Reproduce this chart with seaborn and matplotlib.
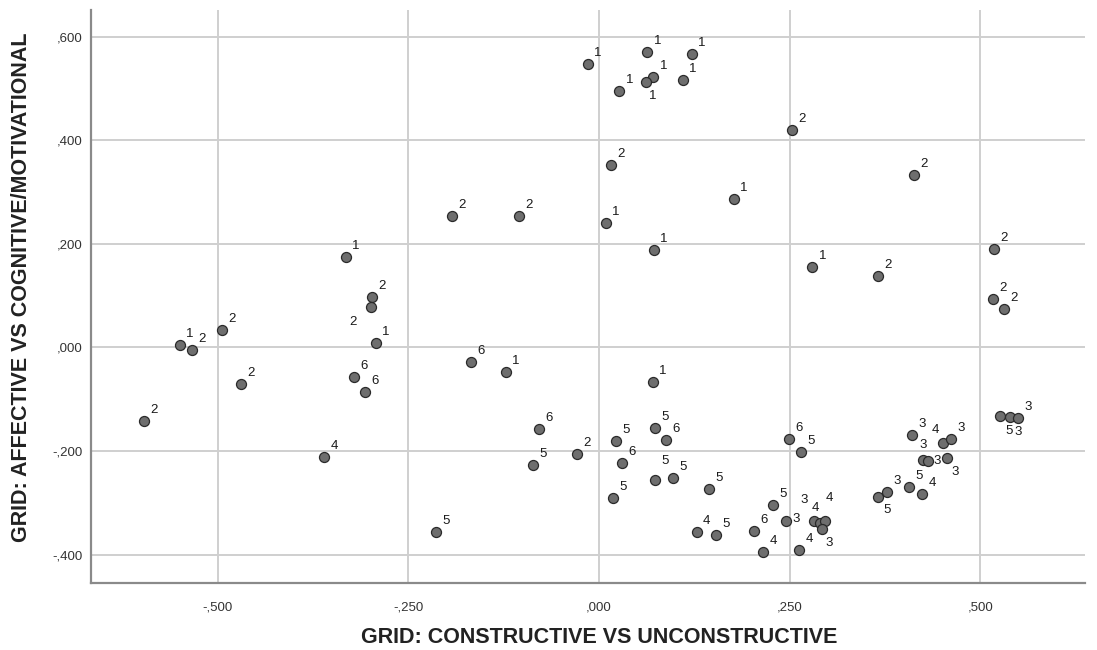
"""Repertory grid scatter: constructive vs affective components."""

import matplotlib
matplotlib.use("Agg")
import matplotlib.pyplot as plt
from matplotlib.ticker import FixedLocator, FuncFormatter
import pandas as pd
import seaborn as sns

# component scores
constructive = [
    -0.0144, 0.0633, 0.1215, 0.0712, 0.0616, 0.1100, 0.0266, 0.0161, 0.2533, 0.4124,
    0.1770, -0.1927, -0.1048, 0.0088, 0.0717, -0.3316, 0.2796, 0.3660, 0.5180, 0.5168,
    0.5308, -0.2975, -0.2988, -0.2927, -0.5500, -0.5343, -0.4941, -0.4692, -0.3207, -0.3063,
    -0.1678, -0.1219, 0.0704, -0.5960, -0.3604, -0.2140, -0.0782, -0.0869, -0.0288, 0.0219,
    0.0738, 0.0878, 0.0298, 0.0738, 0.0974, 0.0187, 0.1438, 0.1280, 0.1533, 0.2031,
    0.2494, 0.2647, 0.2284, 0.2447, 0.2149, 0.2621, 0.2814, 0.2897, 0.2962, 0.2927,
    0.4102, 0.4513, 0.4613, 0.4246, 0.4316, 0.4565, 0.3660, 0.3771, 0.4059, 0.4233,
    0.5256, 0.5387, 0.5496,
]
affective = [
    0.5470, 0.5705, 0.5670, 0.5220, 0.5130, 0.5160, 0.4950, 0.3515, 0.4205, 0.3336,
    0.2860, 0.2531, 0.2531, 0.2403, 0.1888, 0.1747, 0.1554, 0.1380, 0.1900, 0.0929,
    0.0749, 0.0967, 0.0782, 0.0093, 0.0040, -0.0048, 0.0330, -0.0705, -0.0570, -0.0853,
    -0.0274, -0.0473, -0.0674, -0.1419, -0.2122, -0.3570, -0.1581, -0.2263, -0.2056, -0.1813,
    -0.1562, -0.1793, -0.2230, -0.2552, -0.2527, -0.2900, -0.2740, -0.3570, -0.3614, -0.3550,
    -0.1760, -0.2025, -0.3040, -0.3344, -0.3956, -0.3917, -0.3350, -0.3396, -0.3344, -0.3504,
    -0.1690, -0.1844, -0.1760, -0.2166, -0.2191, -0.2127, -0.2886, -0.2797, -0.2701, -0.2836,
    -0.1330, -0.1342, -0.1369,
]
cluster = [
    1, 1, 1, 1, 1, 1, 1, 2, 2, 2,
    1, 2, 2, 1, 1, 1, 1, 2, 2, 2,
    2, 2, 2, 1, 1, 2, 2, 2, 6, 6,
    6, 1, 1, 2, 4, 5, 6, 5, 2, 5,
    5, 6, 6, 5, 5, 5, 5, 4, 5, 6,
    6, 5, 5, 3, 4, 4, 3, 4, 4, 3,
    3, 4, 3, 3, 3, 3, 5, 3, 5, 4,
    5, 3, 3,
]

X_TICKS = [-0.5, -0.25, 0.0, 0.25, 0.5]
Y_TICKS = [-0.4, -0.2, 0.0, 0.2, 0.4, 0.6]

# label placement (pixels from the point); everything else uses DEFAULT_NUDGE
DEFAULT_NUDGE = (10, 11)
LABEL_NUDGE = {
    4: (7, -14), 22: (-18, -15), 43: (10, 19), 53: (10, 2),
    56: (-10, 21), 57: (-5, 15), 58: (4, 23), 59: (7, -14),
    61: (-8, 13), 63: (0, 15), 64: (9, 0), 65: (8, -14),
    66: (9, -13), 70: (9, -15), 71: (8, -15),
}


def comma_decimal(v, _pos=None):
    if abs(v) < 1e-9:
        v = 0.0
    s = f"{v:.3f}"
    return s.replace("0.", ",", 1)


df = pd.DataFrame({"x": constructive, "y": affective, "lab": cluster})

sns.set_theme(style="whitegrid")
plt.rcParams["font.family"] = ["Liberation Sans", "DejaVu Sans"]

fig = plt.figure(figsize=(10.97, 6.5), dpi=100)
ax = fig.add_axes([0.083, 0.103, 0.906, 0.882])

sns.scatterplot(data=df, x="x", y="y", ax=ax, s=52, color="#6e6e6e",
                edgecolor="#2a2a2a", linewidth=0.9, zorder=3, legend=False)

for i, (x, y, lab) in enumerate(zip(constructive, affective, cluster)):
    dx, dy = LABEL_NUDGE.get(i, DEFAULT_NUDGE)
    ax.annotate(str(lab), (x, y), xytext=(dx, dy),
                textcoords="offset pixels", ha="center", va="center",
                fontsize=9.5, color="#1a1a1a", zorder=4)

ax.set_xlim(-0.666, 0.637)
ax.set_ylim(-0.455, 0.652)
ax.xaxis.set_major_locator(FixedLocator(X_TICKS))
ax.yaxis.set_major_locator(FixedLocator(Y_TICKS))
ax.xaxis.set_major_formatter(FuncFormatter(comma_decimal))
ax.yaxis.set_major_formatter(FuncFormatter(comma_decimal))

ax.grid(True, color="#cfcfcf", linewidth=1.4)
ax.set_axisbelow(True)
for side in ("top", "right"):
    ax.spines[side].set_visible(False)
for side in ("left", "bottom"):
    ax.spines[side].set_visible(True)
    ax.spines[side].set_color("#8a8a8a")
    ax.spines[side].set_linewidth(1.6)

ax.tick_params(axis="both", length=0, labelsize=9.5, colors="#333333")
ax.tick_params(axis="x", pad=13)
ax.tick_params(axis="y", pad=6)

ax.set_xlabel("GRID: CONSTRUCTIVE VS UNCONSTRUCTIVE", fontsize=15.5,
              fontweight="bold", color="#222222")
ax.set_ylabel("GRID: AFFECTIVE VS COGNITIVE/MOTIVATIONAL", fontsize=15.5,
              fontweight="bold", color="#222222")
# axis title anchors, in axes fractions
ax.xaxis.set_label_coords(0.511, -0.076)
ax.yaxis.set_label_coords(-0.059, 0.516)

fig.savefig("out.png", dpi=100, facecolor="white")
plt.close(fig)
